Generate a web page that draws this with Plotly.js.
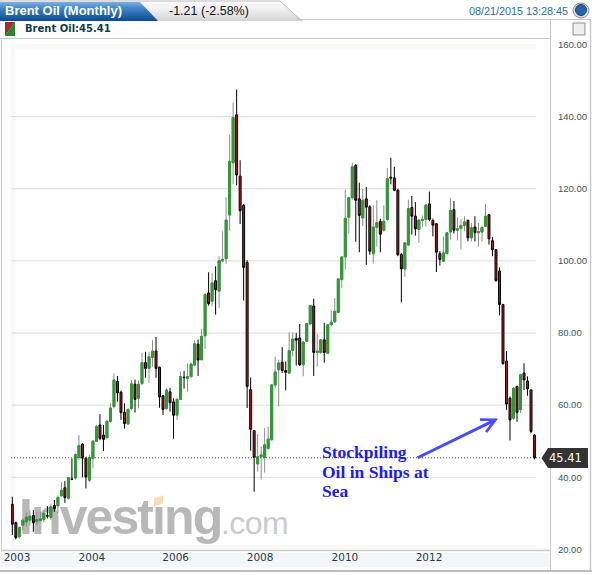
<!DOCTYPE html>
<html>
<head>
<meta charset="utf-8">
<script src="https://cdn.plot.ly/plotly-3.0.1.min.js"></script>
<style>
html,body{margin:0;padding:0;background:#fff;width:592px;height:575px;overflow:hidden}
#chart{position:absolute;left:0;top:0;width:592px;height:575px;z-index:2}
.bg{position:absolute;z-index:1}
#tabGray{left:130px;top:1px;width:172px;height:20px;background:linear-gradient(#fbfbfb,#f2f2f2 35%,#d4d4d4);clip-path:polygon(0 0,150px 0,172px 20px,0 20px)}
#tabBlue{left:0;top:2px;width:158px;height:19px;background:linear-gradient(#7fb0e0,#3f82c6 35%,#0c4a90);clip-path:polygon(0 0,140px 0,158px 19px,0 19px)}
#wm1{left:19px;top:485px;font:bold 50px "Liberation Sans",Arial,sans-serif;letter-spacing:-1.9px;color:#b8b8b8;line-height:64px}
#wm2{left:221px;top:501px;font:normal 32px "Liberation Sans",Arial,sans-serif;color:#cbcbcb;letter-spacing:-.6px;line-height:44px}
#wmDot{left:154px;top:497px;width:9px;height:8px;background:#f8dcb0;transform:skewY(-20deg)}
</style>
</head>
<body>
<div class="bg" id="tabGray"></div>
<div class="bg" id="tabBlue"></div>
<div class="bg" id="wm1">Investing</div>
<div class="bg" id="wm2">.com</div>
<div class="bg" id="wmDot"></div>
<div id="chart"></div>
<script>
const opens = [32.5,27.4,23.5,26.7,27.6,28.1,29.4,27.8,28.0,28.3,29.35,28.9,32.2,32.1,34.9,37.1,34.2,39.55,39.8,45.5,49.2,45.3,39.2,45.2,50.0,54.5,51.7,51.0,55.5,59.6,66.6,63.6,58.0,54.8,59.1,65.8,61.9,66.0,71.8,70.2,73.2,75.0,70.5,62.6,59.1,63.7,60.9,57.2,61.6,67.75,67.4,67.9,71.1,76.9,72.6,79.25,91.1,88.8,94.5,91.6,100.0,100.6,112.7,127.2,140.5,123.5,115.4,99.6,64.3,52.96,43.7,45.7,45.5,48.0,50.4,65.6,69.8,71.9,69.6,68.9,75.2,78.5,78.6,71.2,77.7,82.5,87.5,74.6,74.6,78.1,74.4,82.3,83.1,85.7,94.8,101.1,112.1,117.5,126.5,117.2,111.9,117.2,115.0,102.0,109.3,110.9,108.5,111.5,123.2,123.0,119.6,101.75,97.8,104.4,114.8,112.4,108.7,111.2,111.5,115.8,111.2,110.3,102.0,99.9,102.0,108.0,114.2,108.5,109.0,109.8,111.2,106.4,109.4,107.8,108.0,109.6,112.8,105.6,103.1,97.2,87.9,72.2,61.9,56.4,65.2,58.7,68.9,66.7,64.2,51.7];
const highs = [34.6,27.7,26.3,28.6,30.2,30.9,30.9,30.4,30.4,30.9,32.0,32.7,33.7,35.0,38.7,39.0,40.1,45.2,46.6,51.7,49.4,45.7,46.2,50.3,54.5,57.5,54.5,55.9,60.5,68.8,68.1,64.0,60.5,59.1,67.0,67.1,66.8,74.5,74.8,74.8,78.0,78.9,70.7,62.8,64.8,64.8,61.9,62.1,69.3,69.5,71.6,71.8,78.0,78.2,81.1,91.1,96.85,96.7,98.5,101.3,108.2,117.6,135.0,143.9,147.5,127.9,115.7,100.2,67.7,53.1,52.0,48.5,53.6,54.0,65.9,73.5,72.6,76.1,72.1,80.2,80.2,80.0,82.5,77.7,82.8,87.8,89.5,79.8,78.1,82.8,82.3,86.2,89.7,95.2,101.3,119.8,117.8,127.2,126.8,121.7,120.0,120.5,115.4,115.4,116.8,111.7,115.4,125.8,128.6,126.1,120.0,102.2,105.2,117.0,118.0,116.3,111.5,112.6,115.6,119.2,111.7,110.5,102.7,106.8,108.0,117.5,116.6,112.0,111.5,112.4,111.5,110.5,112.4,110.5,109.6,115.8,113.0,106.6,103.3,98.2,88.1,75.0,62.4,65.0,65.4,68.7,71.6,68.0,64.4,51.9];
const lows = [24.0,22.8,23.0,25.5,26.3,26.7,24.9,26.7,27.6,27.6,28.6,28.1,30.4,30.0,34.6,32.9,33.8,39.2,39.4,44.8,40.0,36.9,38.7,42.4,49.8,50.3,47.3,50.5,55.1,59.1,61.0,55.9,53.5,54.5,58.6,57.9,59.1,65.6,67.6,66.2,70.7,67.6,59.3,57.3,58.6,58.2,50.7,55.9,61.4,64.6,63.7,67.8,70.8,68.1,72.4,75.6,87.6,87.4,85.1,86.9,99.8,99.2,108.4,121.3,121.0,110.2,89.0,59.2,47.4,36.0,41.6,39.4,41.3,47.6,50.2,64.7,59.6,68.9,64.1,68.7,73.5,71.0,70.9,68.0,77.5,82.3,68.1,70.7,74.2,71.8,74.2,81.8,82.8,85.5,92.5,97.6,107.6,117.0,105.3,102.4,109.6,98.9,101.7,99.3,104.0,102.4,108.2,111.0,121.2,119.3,101.3,88.5,95.6,104.1,107.3,107.0,105.0,109.4,109.6,111.0,106.8,96.9,98.7,99.9,101.8,105.9,107.6,105.7,103.1,108.2,105.4,105.4,105.4,104.0,105.4,109.4,104.5,101.3,94.3,84.9,71.3,58.7,50.2,55.9,55.4,57.8,64.2,62.6,52.2,45.0];
const closes = [27.0,23.3,26.1,28.1,29.0,29.2,27.4,28.3,28.5,30.0,29.25,31.8,31.3,34.4,36.4,34.4,39.9,39.45,46.3,48.8,45.3,40.1,45.5,50.0,54.0,50.8,50.5,55.5,59.2,67.0,63.4,57.9,54.9,58.8,65.9,61.6,65.8,71.8,70.2,73.4,75.0,70.2,62.3,58.8,64.2,60.7,57.2,61.6,67.9,67.65,67.9,71.4,77.0,72.5,79.07,90.6,88.14,93.9,92.0,100.1,100.4,111.3,127.6,139.75,123.8,113.9,98.2,65.2,53.3,45.5,45.7,46.2,49.0,50.6,65.6,69.2,71.7,69.6,69.1,75.1,78.3,78.0,71.2,77.5,82.6,87.6,74.6,75.0,78.1,74.6,82.3,83.0,86.0,95.0,101.1,111.8,117.5,126.1,116.8,112.6,116.8,114.9,102.7,109.4,110.6,107.4,111.0,122.8,123.0,119.6,101.75,97.8,105.0,114.5,112.4,108.9,111.3,111.5,115.5,111.5,109.9,102.4,100.4,102.2,107.8,114.0,108.5,108.9,109.8,110.8,106.4,109.2,107.8,108.1,109.3,112.4,106.1,103.1,94.5,87.9,71.5,60.3,55.9,64.7,58.0,68.4,67.0,64.5,52.7,45.41];
const yTicks = [160,140,120,100,80,60,40,20];
const yTickText = ["160.00","140.00","120.00","100.00","80.00","60.00","40.00","20.00"];
const gridValues = [140,120,100,80,60,40];
const xTickPos = [1.33,22.7,46.6,70.7,94.9,118.9];
const xTickText = ["2003","2004","2006","2008","2010","2012"];
const lastPrice = 45.41;

const idx = opens.map((_, i) => i);
const up = idx.filter(i => closes[i] >= opens[i]);
const px = v => v / 592, py = v => 1 - v / 575;
const gray = '#c9c9c9';
const ln = (x0, y0, x1, y1, c, w) => ({type:'line',xref:'paper',yref:'paper',x0:px(x0),y0:py(y0),x1:px(x1),y1:py(y1),line:{color:c||gray,width:w||1},layer:'below'});
const rect = (x0, y0, x1, y1, c) => ({type:'rect',xref:'paper',yref:'paper',x0:px(x0),y0:py(y0),x1:px(x1),y1:py(y1),fillcolor:c,line:{width:0},layer:'below'});
const poly = (pts, c, layer) => ({type:'path',xref:'paper',yref:'paper',path:'M'+pts.map(p=>px(p[0])+','+py(p[1])).join('L')+'Z',fillcolor:c,line:{width:0},layer:layer||'above'});

const shapes = [
  rect(1,553,551,567,'#f3f7fc'),
  rect(11,44,536,49,'#f8f8f4'),
  rect(11,44,15,547,'#f8f8f4'),
  rect(11,545,536,549,'#f9f9f6'),
  ln(0,38.5,551,38.5), ln(1.5,38,1.5,552), ln(1,550.5,551,550.5,gray,1.5),
  ln(550.5,19,550.5,571), ln(590.5,19,590.5,571,gray,1.5),
  ln(295,19.5,591,19.5), ln(0,571,592,571,'#bdbdbd',2),
  ln(0,1,280,1,'#bbbbbb'), ln(280,1,302,21,'#bbbbbb'),
  poly([[5,22],[15,22],[5,36]],'#a52a2a'),
  poly([[15,22],[15,36],[5,36]],'#1f8a2e'),
  {type:'circle',xref:'paper',yref:'paper',x0:px(573),y0:py(18),x1:px(589),y1:py(3),fillcolor:'#d9dde2',line:{color:'#8a8f96',width:1}},
  {type:'circle',xref:'paper',yref:'paper',x0:px(575.5),y0:py(15.5),x1:px(586.5),y1:py(4.5),fillcolor:'#2a62a8',line:{color:'#1b4276',width:1}},
  {type:'rect',xref:'paper',yref:'paper',x0:px(573),y0:py(35),x1:px(585),y1:py(23),fillcolor:'#eeeeee',line:{color:'#8f8f8f',width:1}},
  rect(575,31,583,33,'#111111'),
  poly([[541.5,458],[548,448],[588,448],[588,468],[548,468]],'#333333'),
  {type:'line',xref:'paper',yref:'y',x0:px(11),x1:px(541),y0:lastPrice,y1:lastPrice,line:{color:'#555555',width:1,dash:'1px,2px'},layer:'above'}
].concat(gridValues.map(v => ({type:'line',xref:'paper',yref:'y',x0:px(11),x1:px(536),y0:v,y1:v,line:{color:'#dcdcdc',width:1},layer:'below'})));

const note = (x, y, text, size, color, family) => ({xref:'paper',yref:'paper',x:px(x-2.5),y:py(y),xanchor:'left',yanchor:'middle',align:'left',showarrow:false,text,font:{size,color,family}});
const annotations = [
  note(5.5,11,'<b>Brent Oil (Monthly)</b>',13,'#ffffff','Liberation Sans'),
  note(169,11,'-1.21 (-2.58%)',12.5,'#111111','Liberation Sans'),
  note(469,10.5,'08/21/2015 13:28:45',10.8,'#2a6db0','Liberation Sans'),
  note(25,29,'<b>Brent Oil:45.41</b>',10,'#123c4a','DejaVu Sans'),
  note(549,458,'45.41',11.5,'#ffffff','DejaVu Sans'),
  note(322,452,'<b>Stockpiling</b>',17.5,'#1a1aff','Liberation Serif'),
  note(322,472,'<b>Oil in Ships at</b>',17.5,'#1a1aff','Liberation Serif'),
  note(322,491,'<b>Sea</b>',17.5,'#1a1aff','Liberation Serif'),
  {xref:'x',yref:'y',x:138.6,y:56.3,ax:-82,ay:40,axref:'pixel',ayref:'pixel',text:'',showarrow:true,arrowhead:5,arrowsize:0.9,arrowwidth:3,arrowcolor:'#4a4aff'}
];

const traces = [
  {type:'candlestick',x:idx,open:opens,high:highs,low:lows,close:closes,
   increasing:{line:{color:'#8c8c8c',width:1},fillcolor:'#2f9a35'},
   decreasing:{line:{color:'#000000',width:1},fillcolor:'#b01c1c'},
   hoverinfo:'skip',showlegend:false},
  {type:'candlestick',x:up,open:up.map(i=>opens[i]),close:up.map(i=>closes[i]),high:up.map(i=>closes[i]),low:up.map(i=>opens[i]),
   increasing:{line:{color:'#2f9a35',width:1},fillcolor:'#2f9a35'},
   decreasing:{line:{color:'#2f9a35',width:1},fillcolor:'#2f9a35'},
   hoverinfo:'skip',showlegend:false}
];

const layout = {
  width:592,height:575,margin:{l:0,r:0,t:0,b:0},
  paper_bgcolor:'rgba(0,0,0,0)',plot_bgcolor:'rgba(0,0,0,0)',
  showlegend:false,boxgap:0.2,hovermode:false,
  xaxis:{domain:[px(11),px(551)],range:[-0.38,153.7],type:'linear',tickmode:'array',tickvals:xTickPos,ticktext:xTickText,
         showgrid:false,zeroline:false,showline:false,ticks:'',ticklabelstandoff:-1,tickangle:0,
         tickfont:{family:'DejaVu Sans',size:10.5,color:'#1f3b48'},rangeslider:{visible:false},fixedrange:true},
  yaxis:{domain:[py(550.5),py(38.5)],range:[19.7,161.66],side:'right',tickmode:'array',tickvals:yTicks,ticktext:yTickText,
         showgrid:false,zeroline:false,showline:false,ticks:'outside',ticklen:4,tickcolor:'rgba(0,0,0,0)',
         tickfont:{family:'Liberation Sans',size:9.5,color:'#3a5560'},fixedrange:true},
  shapes,annotations
};
Plotly.newPlot('chart',traces,layout,{displayModeBar:false,staticPlot:true});
</script>
</body>
</html>
